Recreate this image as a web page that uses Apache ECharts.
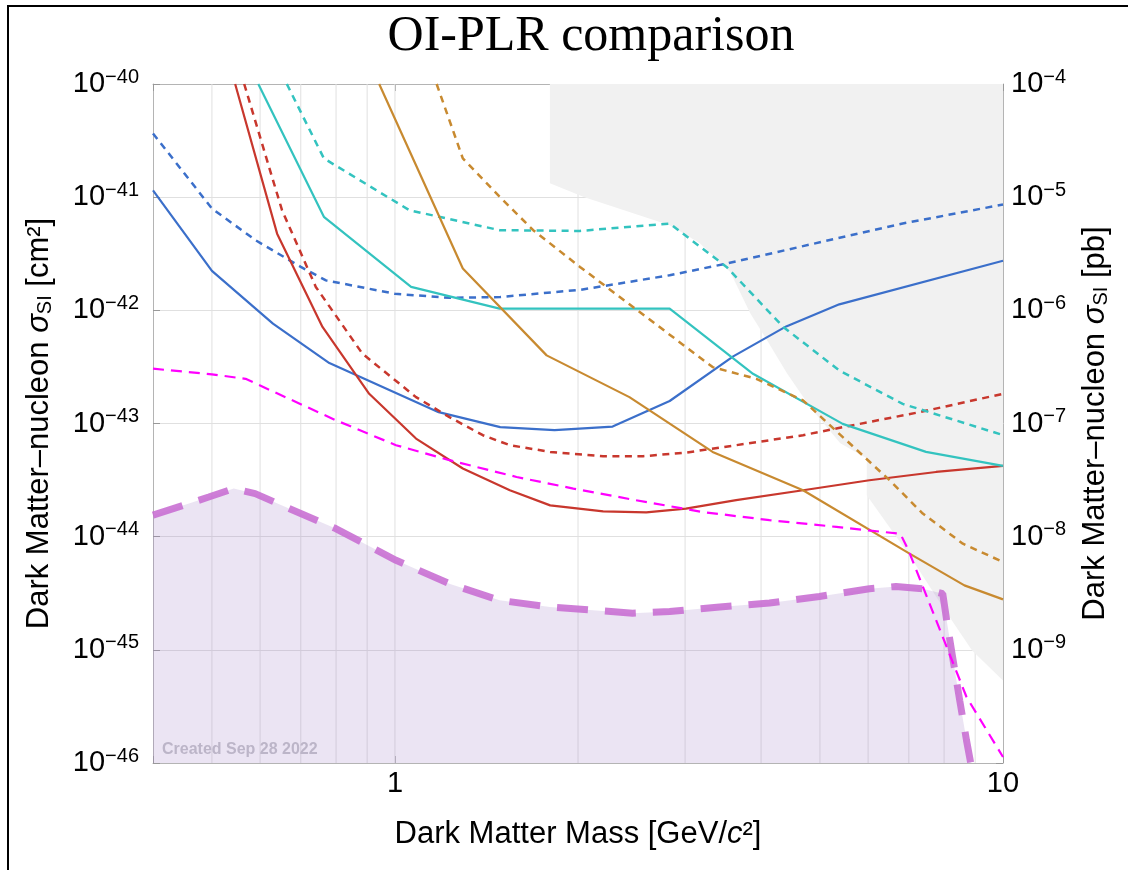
<!DOCTYPE html>
<html>
<head>
<meta charset="utf-8">
<title>OI-PLR comparison</title>
<script src="https://cdn.jsdelivr.net/npm/echarts@6.0.0/dist/echarts.min.js"></script>
<style>
  html, body { margin: 0; padding: 0; background: #fff; }
  #chart { width: 1128px; height: 870px; }
</style>
</head>
<body>
<div id="chart"></div>
<script>
// masses in GeV/c^2, cross sections in cm^2
var blueSolidMass  = [0.40, 0.50, 0.63, 0.78, 1.18, 1.49, 1.83, 2.28, 2.83, 3.60, 4.40, 5.38, 10];
var blueSolidSigma = [1.15e-41, 2.23e-42, 7.62e-43, 3.42e-43, 1.26e-43, 9.29e-44, 8.73e-44, 9.40e-44, 1.58e-43, 3.92e-43, 7.21e-43, 1.13e-42, 2.74e-42];

var blueDashMass  = [0.40, 0.50, 0.59, 0.70, 0.77, 1.00, 1.23, 1.49, 2.02, 2.83, 3.51, 5.32, 6.84, 10];
var blueDashSigma = [3.66e-41, 7.94e-42, 4.16e-42, 2.42e-42, 1.84e-42, 1.40e-42, 1.29e-42, 1.31e-42, 1.52e-42, 2.04e-42, 2.59e-42, 4.31e-42, 5.85e-42, 8.61e-42];

var redSolidMass  = [0.546, 0.64, 0.76, 0.907, 1.083, 1.293, 1.545, 1.80, 2.20, 2.59, 3.01, 3.64, 4.69, 6.03, 7.76, 10];
var redSolidSigma = [1e-40, 4.76e-42, 7.13e-43, 1.83e-43, 7.36e-44, 4.00e-44, 2.57e-44, 1.89e-44, 1.67e-44, 1.64e-44, 1.77e-44, 2.10e-44, 2.57e-44, 3.15e-44, 3.73e-44, 4.22e-44];

var redDashMass  = [0.565, 0.652, 0.741, 0.884, 1.083, 1.229, 1.395, 1.545, 1.80, 2.20, 2.56, 3.01, 3.64, 4.69, 5.32, 7.29, 10];
var redDashSigma = [1e-40, 7.67e-42, 1.61e-42, 4.14e-43, 1.71e-43, 1.14e-43, 7.88e-44, 6.43e-44, 5.61e-44, 5.14e-44, 5.14e-44, 5.53e-44, 6.43e-44, 7.88e-44, 9.04e-44, 1.26e-43, 1.83e-43];

var cyanSolidMass  = [0.596, 0.764, 1.063, 1.486, 2.83, 3.88, 5.45, 7.47, 10];
var cyanSolidSigma = [1e-40, 6.70e-42, 1.61e-42, 1.035e-42, 1.035e-42, 2.75e-43, 9.93e-44, 5.61e-44, 4.22e-44];

var cyanDashMass  = [0.664, 0.764, 1.056, 1.486, 2.015, 2.83, 3.51, 4.35, 5.38, 6.84, 10];
var cyanDashSigma = [1e-40, 2.20e-41, 7.67e-42, 5.11e-42, 5.03e-42, 5.85e-42, 2.42e-42, 7.14e-43, 2.94e-43, 1.49e-43, 7.9e-44];

var orangeSolidMass  = [0.942, 1.293, 1.776, 2.43, 3.33, 4.69, 7.02, 8.64, 10];
var orangeSolidSigma = [1e-40, 2.34e-42, 4.00e-43, 1.71e-43, 5.61e-44, 2.57e-44, 7.08e-45, 3.71e-45, 2.79e-45];

var orangeDashMass  = [1.171, 1.293, 1.486, 1.688, 2.015, 3.33, 3.93, 4.69, 6.51, 7.38, 8.59, 10];
var orangeDashSigma = [1e-40, 2.20e-41, 1.01e-41, 5.11e-42, 2.42e-42, 3.15e-43, 2.48e-43, 1.60e-43, 3.15e-44, 1.60e-44, 8.67e-45, 5.97e-45];

var magentaMass  = [0.40, 0.50, 0.568, 0.799, 1.004, 1.229, 1.585, 1.965, 2.49, 3.21, 4.13, 5.32, 6.78, 6.99, 8.71, 10];
var magentaSigma = [3.05e-43, 2.72e-43, 2.48e-43, 1.07e-43, 6.43e-44, 4.74e-44, 3.37e-44, 2.66e-44, 2.10e-44, 1.65e-44, 1.40e-44, 1.22e-44, 1.06e-44, 7.59e-45, 3.83e-46, 1.13e-46];

var purpleMass  = [0.40, 0.494, 0.543, 0.589, 0.652, 0.799, 1.004, 1.229, 1.486, 1.798, 2.46, 2.83, 3.42, 4.13, 4.99, 6.03, 6.67, 7.38, 7.96, 8.08, 8.26, 8.49, 8.71, 8.85];
var purpleSigma = [1.55e-44, 2.24e-44, 2.66e-44, 2.40e-44, 1.89e-44, 1.18e-44, 6.18e-45, 3.84e-45, 2.74e-45, 2.39e-45, 2.11e-45, 2.18e-45, 2.39e-45, 2.59e-45, 2.96e-45, 3.47e-45, 3.63e-45, 3.47e-45, 3.13e-45, 1.82e-45, 8.71e-46, 3.55e-46, 1.58e-46, 1.0e-46];

// excluded region (grey), lower edge
var greyMass  = [1.798, 1.798, 2.05, 2.83, 3.17, 3.56, 3.84, 4.09, 4.41, 4.82, 5.40, 5.97, 5.97, 6.98, 8.09, 8.89, 10];
var greySigma = [1e-40, 1.33e-41, 1.00e-41, 5.66e-42, 3.93e-42, 2.18e-42, 9.44e-43, 5.46e-43, 2.79e-43, 1.39e-43, 6.70e-44, 4.93e-44, 2.32e-44, 7.13e-45, 2.10e-45, 9.9e-46, 5.37e-46];

var gridMasses = [0.5, 0.6, 0.7, 0.8, 0.9, 1, 2, 3, 4, 5, 6, 7, 8, 9];

var X_MIN = 0.4, X_MAX = 10;
var UNIT_EXP = -46;          // plot sigma in units of 1e-46 cm^2 (log axis rounds tiny ticks)
var Y_MIN_EXP = -46, Y_MAX_EXP = -40;
var PB_SHIFT = 36;           // 1 pb = 1e-36 cm^2

var FONT = '"Liberation Sans", Arial, sans-serif';
var SIGMA_UNIT = Math.pow(10, UNIT_EXP);
var Y_LO = Math.pow(10, Y_MIN_EXP - UNIT_EXP);
var Y_HI = Math.pow(10, Y_MAX_EXP - UNIT_EXP);

function pairs(mass, sigma) {
    var out = [];
    for (var i = 0; i < mass.length; i++) {
        out.push([mass[i], sigma[i] / SIGMA_UNIT]);
    }
    return out;
}

function curve(mass, sigma, color, dash, width) {
    return {
        type: 'line',
        data: pairs(mass, sigma),
        showSymbol: false,
        symbol: 'none',
        silent: true,
        z: 4,
        lineStyle: { color: color, width: width, type: dash, cap: 'butt' }
    };
}

function supLabel(exp) {
    return '{b|10}{s|\u2212' + (-exp) + '}';
}

var labelRich = {
    b: { fontSize: 29, lineHeight: 34, fontFamily: FONT, color: '#000' },
    s: { fontSize: 20, lineHeight: 20, verticalAlign: 'top', fontFamily: FONT, color: '#000' }
};

var series = [];

// vertical grid lines
gridMasses.forEach(function (m) {
    series.push({
        type: 'line',
        data: [[m, Y_LO], [m, Y_HI]],
        showSymbol: false,
        symbol: 'none',
        silent: true,
        z: 1,
        lineStyle: { color: '#e0e0e0', width: 1 }
    });
});

// grey excluded region, filled up to the top of the plot
series.push({
    type: 'line',
    data: pairs(greyMass, greySigma),
    showSymbol: false,
    symbol: 'none',
    silent: true,
    z: 2,
    lineStyle: { width: 0, opacity: 0 },
    areaStyle: { color: '#f1f1f1', opacity: 1, origin: 'end' }
});

// purple projection with shaded area
series.push({
    type: 'line',
    data: pairs(purpleMass, purpleSigma),
    showSymbol: false,
    symbol: 'none',
    silent: true,
    z: 3,
    lineStyle: { color: 'rgba(199,108,209,0.88)', width: 7, type: [31, 17], cap: 'butt' },
    areaStyle: { color: 'rgba(164,130,200,0.31)', origin: 'start' }
});

series.push(curve(blueSolidMass, blueSolidSigma, '#3b6fca', 'solid', 2.2));
series.push(curve(blueDashMass, blueDashSigma, '#3b6fca', [7, 5.5], 2.5));
series.push(curve(redSolidMass, redSolidSigma, '#c8372d', 'solid', 2.2));
series.push(curve(redDashMass, redDashSigma, '#c8372d', [7, 5.5], 2.5));
series.push(curve(cyanSolidMass, cyanSolidSigma, '#33c3bf', 'solid', 2.2));
series.push(curve(cyanDashMass, cyanDashSigma, '#33c3bf', [7, 5.5], 2.5));
series.push(curve(orangeSolidMass, orangeSolidSigma, '#c88a30', 'solid', 2.2));
series.push(curve(orangeDashMass, orangeDashSigma, '#c88a30', [7, 5.5], 2.5));
series.push(curve(magentaMass, magentaSigma, '#ff00ff', [11, 7], 2.2));

var chart = echarts.init(document.getElementById('chart'), null, { renderer: 'canvas' });

chart.setOption({
    animation: false,
    backgroundColor: '#fff',
    grid: { left: 153, right: 125, top: 84, bottom: 107, containLabel: false, outerBoundsMode: 'none', show: false },
    xAxis: [{
        type: 'log',
        logBase: 10,
        min: X_MIN,
        max: X_MAX,
        position: 'bottom',
        axisLine: { show: true, lineStyle: { color: '#b4b4b4', width: 1 } },
        axisTick: { show: true, inside: true, length: 7, lineStyle: { color: '#999' } },
        splitLine: { show: false },
        minorTick: { show: false },
        axisLabel: {
            margin: 6,
            fontSize: 29,
            fontFamily: FONT,
            color: '#000',
            formatter: function (v) {
                var l = Math.log10(v);
                if (Math.abs(l - Math.round(l)) > 1e-6) return '';
                return String(Math.round(v));
            }
        },
        name: 'Dark Matter Mass [GeV/{i|c}\u00b2]',
        nameLocation: 'middle',
        nameGap: 56,
        nameMoveOverlap: false,
        nameTextStyle: {
            fontSize: 31, fontFamily: FONT, color: '#000',
            rich: { i: { fontSize: 31, fontStyle: 'italic', fontFamily: FONT, color: '#000' } }
        }
    }, {
        type: 'log',
        logBase: 10,
        min: X_MIN,
        max: X_MAX,
        position: 'top',
        axisLine: { show: true, lineStyle: { color: '#b4b4b4', width: 1 } },
        axisTick: { show: true, inside: true, length: 7, lineStyle: { color: '#999' } },
        splitLine: { show: false },
        axisLabel: { show: false }
    }],
    yAxis: [{
        type: 'log',
        logBase: 10,
        min: Y_LO,
        max: Y_HI,
        position: 'left',
        axisLine: { show: true, lineStyle: { color: '#b4b4b4', width: 1 } },
        axisTick: { show: true, inside: true, length: 7, lineStyle: { color: '#999' } },
        splitLine: { show: true, lineStyle: { color: '#e0e0e0', width: 1 } },
        axisLabel: {
            margin: 14,
            rich: labelRich,
            formatter: function (v) {
                return supLabel(Math.round(Math.log10(v)) + UNIT_EXP);
            }
        },
        name: 'Dark Matter\u2013nucleon {i|\u03c3}{sub|SI} [cm\u00b2]',
        nameLocation: 'middle',
        nameGap: 98,
        nameRotate: 90,
        nameMoveOverlap: false,
        nameTextStyle: {
            fontSize: 31, fontFamily: FONT, color: '#000',
            rich: {
                i: { fontSize: 31, fontStyle: 'italic', fontFamily: FONT, color: '#000' },
                sub: { fontSize: 20, verticalAlign: 'bottom', fontFamily: FONT, color: '#000' }
            }
        }
    }, {
        type: 'log',
        logBase: 10,
        min: Y_LO,
        max: Y_HI,
        position: 'right',
        axisLine: { show: true, lineStyle: { color: '#b4b4b4', width: 1 } },
        axisTick: { show: true, inside: true, length: 7, lineStyle: { color: '#999' } },
        splitLine: { show: false },
        axisLabel: {
            margin: 8,
            rich: labelRich,
            formatter: function (v) {
                var e = Math.round(Math.log10(v)) + UNIT_EXP + PB_SHIFT;
                if (e <= -10) return '';
                return supLabel(e);
            }
        },
        name: 'Dark Matter\u2013nucleon {i|\u03c3}{sub|SI} [pb]',
        nameLocation: 'middle',
        nameGap: 77,
        nameRotate: 90,
        nameMoveOverlap: false,
        nameTextStyle: {
            fontSize: 31, fontFamily: FONT, color: '#000',
            rich: {
                i: { fontSize: 31, fontStyle: 'italic', fontFamily: FONT, color: '#000' },
                sub: { fontSize: 20, verticalAlign: 'bottom', fontFamily: FONT, color: '#000' }
            }
        }
    }],
    graphic: [{
        type: 'rect',
        shape: { x: 8, y: 6, width: 1400, height: 1000 },
        style: { fill: null, stroke: '#000', lineWidth: 2 },
        silent: true,
        z: 100
    }, {
        type: 'text',
        x: 591,
        y: 37,
        style: {
            text: 'OI-PLR comparison',
            font: '50px "Liberation Serif", "Times New Roman", serif',
            fill: '#000',
            align: 'center',
            verticalAlign: 'middle'
        },
        silent: true,
        z: 100
    }, {
        type: 'text',
        x: 162,
        y: 750,
        style: {
            text: 'Created Sep 28 2022',
            font: 'bold 16px "Liberation Sans", Arial, sans-serif',
            fill: '#bcb5c8',
            align: 'left',
            verticalAlign: 'middle'
        },
        silent: true,
        z: 100
    }],
    series: series
});
</script>
</body>
</html>
